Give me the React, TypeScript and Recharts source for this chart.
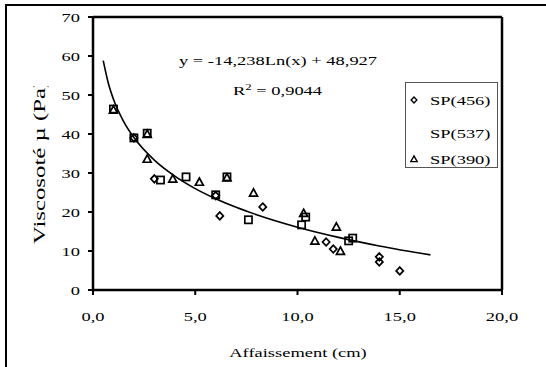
import React from 'react';
import { ComposedChart, Scatter, Line, XAxis, YAxis, ReferenceLine, Legend, Customized } from 'recharts';

// values
const seriesNames = ['SP(456)', 'SP(537)', 'SP(390)'];

const sp456 = [
  { x: 2.0, y: 39.0 }, { x: 3.0, y: 28.5 }, { x: 6.0, y: 24.2 }, { x: 6.2, y: 19.0 },
  { x: 8.3, y: 21.3 }, { x: 11.4, y: 12.3 }, { x: 11.75, y: 10.5 }, { x: 14.0, y: 8.5 },
  { x: 14.0, y: 7.2 }, { x: 15.0, y: 4.9 },
];

const sp537 = [
  { x: 1.0, y: 46.4 }, { x: 2.0, y: 39.0 }, { x: 2.65, y: 40.2 }, { x: 3.3, y: 28.2 },
  { x: 4.55, y: 29.0 }, { x: 6.55, y: 29.0 }, { x: 6.0, y: 24.4 }, { x: 7.6, y: 18.0 },
  { x: 10.4, y: 18.7 }, { x: 10.2, y: 16.7 }, { x: 12.5, y: 12.6 }, { x: 12.7, y: 13.3 },
];

const sp390 = [
  { x: 1.0, y: 46.2 }, { x: 2.65, y: 40.0 }, { x: 2.65, y: 33.6 }, { x: 3.9, y: 28.5 },
  { x: 5.2, y: 27.7 }, { x: 6.55, y: 28.8 }, { x: 7.85, y: 24.9 }, { x: 10.3, y: 19.7 },
  { x: 11.9, y: 16.2 }, { x: 10.85, y: 12.6 }, { x: 12.1, y: 10.0 },
];

// logarithmic trend line
const trendX = [0.5, 0.75, 1, 1.5, 2, 3, 4, 5, 6, 7, 8, 10, 12, 14, 16.5];
const trendY = [58.8, 53.0, 48.9, 43.2, 39.1, 33.3, 29.2, 26.0, 23.4, 21.2, 19.3, 16.1, 13.5, 11.3, 9.0];
const trendData = trendX.map((x, i) => ({ x, y: trendY[i] }));

const xTicks = [0, 5, 10, 15, 20];
const yTicks = [0, 10, 20, 30, 40, 50, 60, 70];

const equation = 'y = -14,238Ln(x) + 48,927';
const rSquared = '0,9044';
const xTitle = 'Affaissement (cm)';
const yTitle = 'Viscosoté µ (Pa)';

const font = '"Liberation Serif", "Times New Roman", serif';
const stretch = 1.42;

const Diamond = ({ cx, cy }: any) =>
  cx == null ? null : (
    <path d={`M${cx},${cy - 3.8}L${cx + 3.6},${cy}L${cx},${cy + 3.8}L${cx - 3.6},${cy}Z`} fill="none" stroke="#000" strokeWidth={1.7} />
  );

const Square = ({ cx, cy }: any) =>
  cx == null ? null : <rect x={cx - 3.6} y={cy - 3.6} width={7.2} height={7.2} fill="none" stroke="#000" strokeWidth={1.7} />;

const Triangle = ({ cx, cy }: any) =>
  cx == null ? null : (
    <path d={`M${cx},${cy - 4}L${cx + 4},${cy + 3.3}L${cx - 4},${cy + 3.3}Z`} fill="none" stroke="#000" strokeWidth={1.7} />
  );

const XTick = ({ x, y, payload }: any) => (
  <text transform={`translate(${x},${y}) scale(${stretch},1)`} dy="0.71em" textAnchor="middle" fontSize={13} fontFamily={font} fill="#000">
    {payload.value.toFixed(1).replace('.', ',')}
  </text>
);

const YTick = ({ x, y, payload }: any) => (
  <text transform={`translate(${x},${y}) scale(${stretch},1)`} dy="0.35em" textAnchor="end" fontSize={13} fontFamily={font} fill="#000">
    {payload.value}
  </text>
);

const Annotations = () => (
  <g fontFamily={font} fill="#000">
    <defs>
      <clipPath id="ytitle-clip">
        <rect x={0} y={86} width={60} height={200} />
      </clipPath>
    </defs>
    <text transform={`translate(179,65) scale(${stretch},1)`} fontSize={13}>{equation}</text>
    <text transform={`translate(233,95) scale(${stretch},1)`} fontSize={13}>
      R<tspan fontSize={9} dy={-5}>2</tspan>
      <tspan dy={5}> = {rSquared}</tspan>
    </text>
    <text transform={`translate(298,357) scale(${stretch},1)`} fontSize={13} textAnchor="middle">{xTitle}</text>
    <g clipPath="url(#ytitle-clip)">
      <text transform="translate(45,244) rotate(-90) scale(1.55,1)" fontSize={16}>{yTitle}</text>
    </g>
  </g>
);

// SP(537) shows no marker in the reference legend
const legendIcons = [<Diamond cx={10} cy={0} />, null, <Triangle cx={10} cy={0} />];
const legendRowsY = [17, 50, 76];

const renderLegend = () => (
  <div style={{ width: 93, height: 86, border: '1px solid #555', boxSizing: 'border-box', background: '#fff' }}>
    <svg width={91} height={84} style={{ display: 'block' }}>
      {seriesNames.map((name, i) => (
        <g key={name} transform={`translate(0,${legendRowsY[i]})`}>
          <g transform="scale(0.8)">{legendIcons[i]}</g>
          <text transform={`translate(24,4.5) scale(${stretch},1)`} fontSize={13} fontFamily={font} fill="#000">{name}</text>
        </g>
      ))}
    </svg>
  </div>
);

export default function App() {
  return (
    <div style={{ position: 'absolute', left: 0, top: 0, width: 546, height: 367, background: '#fff' }}>
      <div style={{ position: 'absolute', left: 5, top: 4, width: 541, height: 363, borderTop: '2px solid #000', borderLeft: '2px solid #000' }} />
      <div style={{ position: 'absolute', left: 0, top: 0 }}>
        <ComposedChart width={546} height={367} margin={{ top: 17, right: 44, left: 0, bottom: 0 }}>
          <XAxis
            type="number"
            dataKey="x"
            domain={[0, 20]}
            ticks={xTicks}
            allowDataOverflow
            height={77}
            stroke="#000"
            axisLine={{ stroke: '#000', strokeWidth: 2.5 }}
            tickLine={{ stroke: '#000', strokeWidth: 2 }}
            tickSize={5}
            tickMargin={17}
            tick={<XTick />}
          />
          <YAxis
            type="number"
            dataKey="y"
            domain={[0, 70]}
            ticks={yTicks}
            allowDataOverflow
            width={93}
            stroke="#000"
            axisLine={{ stroke: '#000', strokeWidth: 2.5 }}
            tickLine={{ stroke: '#000', strokeWidth: 2 }}
            tickSize={5}
            tickMargin={8}
            tick={<YTick />}
          />
          <ReferenceLine y={70} stroke="#000" strokeWidth={2.5} />
          <ReferenceLine x={20} stroke="#000" strokeWidth={2.5} />
          <Line data={trendData} dataKey="y" type="monotone" stroke="#000" strokeWidth={1.6} dot={false} legendType="none" isAnimationActive={false} />
          <Scatter name={seriesNames[0]} data={sp456} shape={<Diamond />} fill="#000" isAnimationActive={false} />
          <Scatter name={seriesNames[1]} data={sp537} shape={<Square />} fill="#000" isAnimationActive={false} />
          <Scatter name={seriesNames[2]} data={sp390} shape={<Triangle />} fill="#000" isAnimationActive={false} />
          <Legend
            layout="vertical"
            align="center"
            verticalAlign="middle"
            content={renderLegend}
            wrapperStyle={{ position: 'absolute', left: 405, top: 82, width: 93, height: 86 }}
          />
          <Customized component={<Annotations />} />
        </ComposedChart>
      </div>
    </div>
  );
}
